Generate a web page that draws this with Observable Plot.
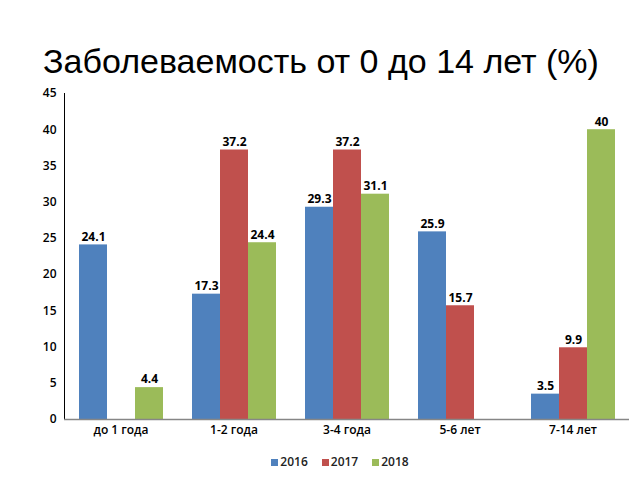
<!DOCTYPE html>
<html>
<head>
<meta charset="utf-8">
<script src="https://cdn.jsdelivr.net/npm/d3@7"></script>
<script src="https://cdn.jsdelivr.net/npm/@observablehq/plot@0.6"></script>
<style>
  body { margin: 0; background: #fff; }
  #wrap { width: 640px; height: 480px; position: relative; overflow: hidden; }
  #title { height: 85px; box-sizing: border-box; padding-top: 41px; padding-left: 2px; text-align: center; white-space: nowrap;
           font-family: "Liberation Sans", Arial, sans-serif; font-size: 34px; color: #000; line-height: 40px; }
  #legend { display: flex; justify-content: center; gap: 14px; font-family: "Open Sans", sans-serif;
            font-weight: 600; font-size: 12px; color: #222; margin-left: 40px; margin-top: 4px; }
  #legend span.sw { display: inline-block; width: 7px; height: 7px; margin-right: 2px; }
</style>
</head>
<body>
<div id="wrap">
  <div id="title">Заболеваемость от 0 до 14 лет (%)</div>
  <div id="chart"></div>
  <div id="legend"></div>
</div>
<script>
const categories = ["до 1 года", "1-2 года", "3-4 года", "5-6 лет", "7-14 лет"];
const years = ["2016", "2017", "2018"];
const v2016 = [24.1, 17.3, 29.3, 25.9, 3.5];
const v2017 = [null, 37.2, 37.2, 15.7, 9.9];
const v2018 = [4.4, 24.4, 31.1, null, 40];
const colors = ["#4F81BD", "#C0504D", "#9BBB59"];

const series = [v2016, v2017, v2018];
const data = [];
categories.forEach((c, i) => {
  years.forEach((y, j) => {
    const v = series[j][i];
    if (v != null) data.push({cat: c, year: y, value: v});
  });
});

const chart = Plot.plot({
  width: 640,
  height: 364,
  marginTop: 8,
  marginLeft: 62,
  marginRight: 10,
  marginBottom: 30,
  style: {fontFamily: "'Open Sans', sans-serif", fontSize: "12px", fontWeight: 600, color: "#000"},
  fx: {domain: categories, padding: 0, label: null, axis: "bottom", tickSize: 0, tickPadding: 6},
  x: {domain: years, paddingInner: 0, paddingOuter: 0.5, axis: null},
  y: {domain: [0, 45], ticks: [0, 5, 10, 15, 20, 25, 30, 35, 40, 45], label: null, tickSize: 0, tickPadding: 8, line: true},
  color: {domain: years, range: colors},
  marks: [
    Plot.barY(data, {fx: "cat", x: "year", y: "value", fill: "year"}),
    Plot.text(data, {fx: "cat", x: "year", y: "value", text: d => String(d.value), dy: -8, fontWeight: "bold", fontSize: 12, fill: "#000"}),
    Plot.ruleY([0], {stroke: "#868686", strokeWidth: 1.5})
  ]
});
chart.querySelectorAll('[aria-label="y-axis line"] line, [aria-label="y-axis line"] path').forEach(e => e.setAttribute("stroke", "#868686"));
document.getElementById("chart").appendChild(chart);

const legend = document.getElementById("legend");
years.forEach((y, j) => {
  const item = document.createElement("span");
  item.innerHTML = `<span class="sw" style="background:${colors[j]}"></span>${y}`;
  legend.appendChild(item);
});
</script>
</body>
</html>
